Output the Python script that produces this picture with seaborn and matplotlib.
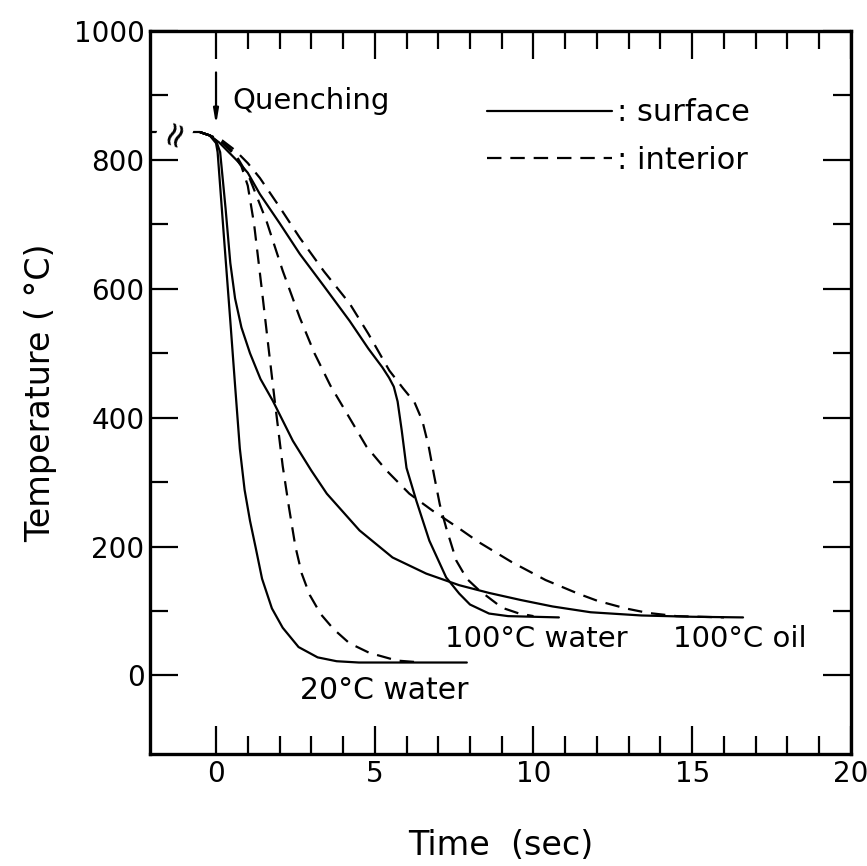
import matplotlib
matplotlib.use("Agg")
import matplotlib.pyplot as plt
from matplotlib.lines import Line2D
from matplotlib.ticker import FixedLocator
import numpy as np
import pandas as pd
import seaborn as sns

# Temperature history before quenching (held at austenitizing temperature)
pre_time = [-2.08, -0.5]
pre_temp = [843, 843]

# 20 C water quench
w20_surface_time = [-0.5, -0.2, 0.0, 0.05, 0.25, 0.45, 0.6, 0.75, 0.9, 1.07, 1.25, 1.45, 1.76, 2.1, 2.6, 3.2, 3.8, 4.5, 7.9]
w20_surface_temp = [843, 838, 826, 812, 680, 550, 450, 352, 288, 240, 198, 150, 104, 74, 44, 28, 22, 20, 20]
w20_interior_time = [-0.5, -0.2, 0.2, 0.5, 0.8, 1.0, 1.2, 1.44, 1.65, 1.85, 2.1, 2.3, 2.5, 2.7, 2.95, 3.3, 3.7, 4.2, 4.83, 5.7, 6.5]
w20_interior_temp = [843, 838, 826, 812, 790, 760, 700, 600, 510, 426, 325, 260, 200, 158, 125, 95, 72, 50, 35, 23, 20]

# 100 C water quench
w100_surface_time = [-0.5, -0.2, 0.1, 0.4, 0.7, 1.0, 1.38, 2.0, 2.64, 3.4, 4.21, 4.8, 5.24, 5.45, 5.6, 5.72, 5.85, 6.0, 6.31, 6.72, 7.25, 7.66, 8.0, 8.6, 9.2, 10.8]
w100_surface_temp = [843, 838, 827, 812, 797, 780, 747, 702, 654, 604, 550, 507, 478, 462, 448, 425, 380, 322, 271, 209, 152, 127, 110, 96, 92, 90]
w100_interior_time = [-0.5, -0.2, 0.2, 0.6, 1.0, 1.38, 2.0, 2.64, 3.4, 4.21, 4.8, 5.46, 5.9, 6.25, 6.5, 6.7, 6.87, 7.05, 7.25, 7.57, 7.9, 8.29, 9.01, 9.55, 10.0]
w100_interior_temp = [843, 838, 830, 815, 795, 772, 727, 679, 627, 577, 530, 473, 445, 424, 395, 355, 310, 265, 229, 178, 150, 132, 105, 96, 92]

# 100 C oil quench
oil_surface_time = [-0.5, -0.2, 0.0, 0.13, 0.3, 0.45, 0.6, 0.8, 1.07, 1.4, 1.79, 2.42, 3.0, 3.49, 4.52, 5.56, 6.62, 7.66, 8.6, 9.6, 10.6, 11.8, 13.4, 15.0, 16.6]
oil_surface_temp = [843, 838, 830, 812, 725, 640, 585, 540, 500, 460, 426, 364, 318, 282, 225, 183, 158, 140, 128, 117, 107, 98, 93, 91, 90]
oil_interior_time = [-0.5, -0.2, 0.2, 0.6, 1.07, 1.59, 2.1, 2.64, 3.1, 3.6, 4.2, 4.74, 5.37, 6.09, 6.81, 7.66, 8.27, 9.31, 10.38, 11.4, 12.0, 12.9, 13.6, 14.5, 16.0]
oil_interior_temp = [843, 838, 828, 810, 770, 705, 628, 555, 500, 450, 400, 355, 318, 282, 256, 228, 207, 176, 148, 127, 116, 104, 97, 92, 90]

x_major = [0, 5, 10, 15, 20]
y_major = [0, 200, 400, 600, 800, 1000]

FS = 20

sns.set_theme(style="ticks")
plt.rcParams["font.family"] = ["DejaVu Sans"]
plt.rcParams["text.color"] = "black"
plt.rcParams["axes.labelcolor"] = "black"

fig = plt.figure(figsize=(8.67, 8.66), dpi=100)
ax = fig.add_axes([0.173, 0.1293, 0.8085, 0.8349])

DASH = (0, (6.5, 4))
curves = [
    (w20_surface_time, w20_surface_temp, "-"),
    (w20_interior_time, w20_interior_temp, DASH),
    (w100_surface_time, w100_surface_temp, "-"),
    (w100_interior_time, w100_interior_temp, DASH),
    (oil_surface_time, oil_surface_temp, "-"),
    (oil_interior_time, oil_interior_temp, DASH),
]
for t, temp, ls in curves:
    sns.lineplot(x=t, y=temp, ax=ax, color="black", linewidth=1.6,
                 linestyle=ls, estimator=None, sort=False)

sns.lineplot(x=pre_time, y=pre_temp, ax=ax, color="black", linewidth=1.6,
             estimator=None, sort=False)

# axis break mark on the holding line
ax.text(-1.3, pre_temp[0], "\u2248", rotation=70, ha="center", va="center",
        fontsize=25, color="black",
        bbox=dict(facecolor="white", edgecolor="none", pad=0.1))

# quenching start arrow
ax.annotate("", xy=(0, 850), xytext=(0, 940),
            arrowprops=dict(arrowstyle="-|>,head_width=0.12,head_length=0.7",
                            color="black", lw=1.6))
ax.text(0.53, 891, "Quenching", fontsize=21, ha="left", va="center")

# curve labels
ax.text(10.08, 57, "100\u00b0C water", fontsize=21, ha="center", va="center")
ax.text(16.5, 57, "100\u00b0C oil", fontsize=21, ha="center", va="center")
ax.text(5.3, -23, "20\u00b0C water", fontsize=21.5, ha="center", va="center")

handles = [Line2D([], [], color="black", lw=1.6, ls="-"),
           Line2D([], [], color="black", lw=1.6, ls=DASH)]
ax.legend(handles, [": surface", ": interior"], loc="upper left",
          bbox_to_anchor=(0.481, 0.907), frameon=False, fontsize=22,
          handlelength=4.1, handletextpad=0.16, labelspacing=0.62,
          borderpad=0, borderaxespad=0)

ax.set_xlim(-2.08, 20)
ax.set_ylim(-122, 1000)
ax.xaxis.set_major_locator(FixedLocator(x_major))
ax.yaxis.set_major_locator(FixedLocator(y_major))
ax.xaxis.set_minor_locator(FixedLocator([v for v in range(1, 20) if v % 5]))
ax.yaxis.set_minor_locator(FixedLocator(list(range(100, 1000, 200))))
ax.tick_params(which="both", direction="in", top=True, right=True,
               color="black", labelsize=FS, labelcolor="black")
ax.tick_params(which="major", length=20, width=1.6, pad=4)
ax.tick_params(which="minor", length=13, width=1.6)
ax.set_xticklabels([str(v) for v in x_major])
ax.set_yticklabels([str(v) for v in y_major])

for sp in ax.spines.values():
    sp.set_visible(True)
    sp.set_linewidth(2.4)
    sp.set_color("black")

ax.set_xlabel("Time  (sec)", fontsize=24, labelpad=30)
ax.set_ylabel("Temperature ( \u00b0C)", fontsize=24, labelpad=12)

fig.savefig("out.png", dpi=100, facecolor="white")
